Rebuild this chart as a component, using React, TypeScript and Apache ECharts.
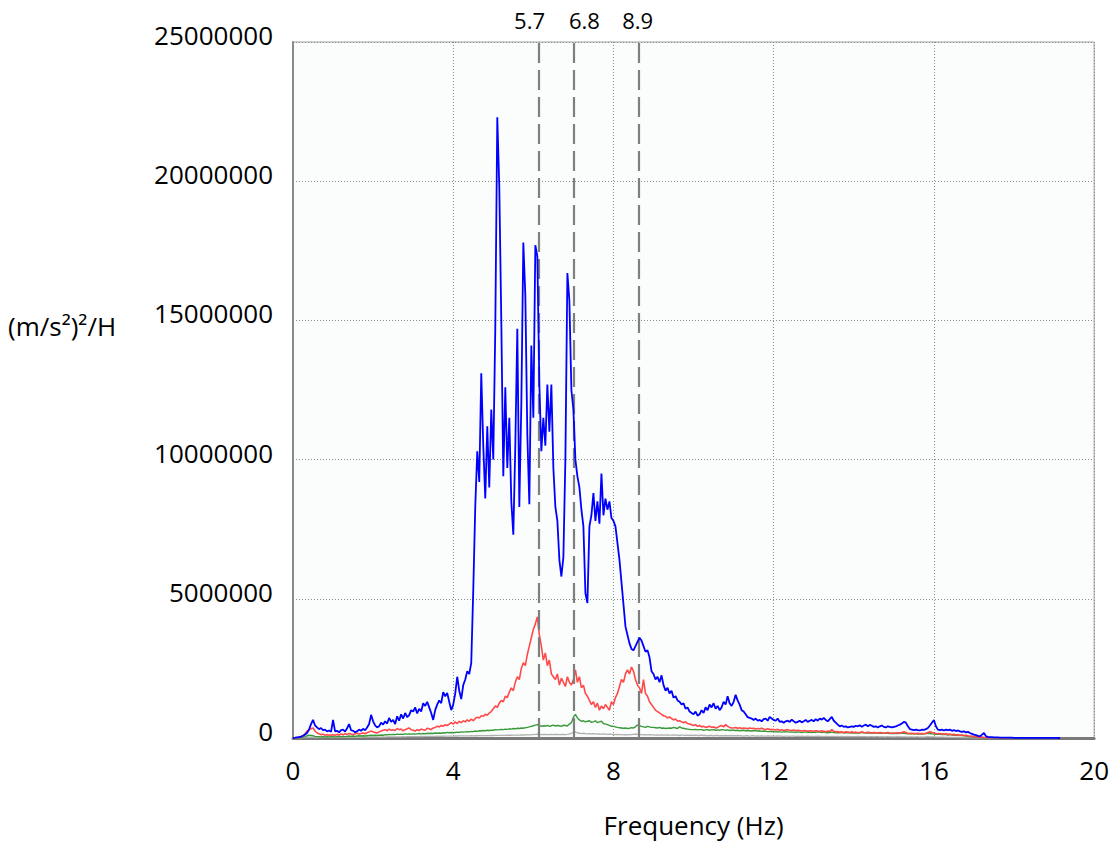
import React, { useEffect, useRef } from "react";
import * as echarts from "echarts";

// Sampling grid of the spectra (Hz) and unit of the value arrays ((m/s²)²/Hz, in millions)
const FREQ_STEP_HZ = 0.05;
const VALUE_UNIT = 1e6;

const X_MIN = 0;
const X_MAX = 20;
const X_INTERVAL = 4;
const Y_MIN = 0;
const Y_MAX = 25000000;
const Y_INTERVAL = 5000000;

const Y_AXIS_NAME = "(m/s²)²/H";
const X_AXIS_NAME = "Frequency (Hz)";

// Marked frequencies: position on the axis and printed label
const MARKER_POS = [6.13, 7.0, 8.63];
const MARKER_LABELS = ["5.7", "6.8", "8.9"];

// Blue spectrum, one row per Hz (20 samples of 0.05 Hz), millions
const BLUE_M = [
  0, 0.01, 0.02, 0.03, 0.05, 0.08, 0.12, 0.18, 0.3, 0.5, 0.65, 0.45, 0.38, 0.32, 0.36, 0.28, 0.3, 0.24, 0.27, 0.22,
  0.65, 0.24, 0.26, 0.2, 0.28, 0.3, 0.23, 0.35, 0.5, 0.28, 0.26, 0.21, 0.24, 0.3, 0.26, 0.33, 0.28, 0.38, 0.5, 0.83,
  0.6, 0.45, 0.38, 0.42, 0.55, 0.48, 0.6, 0.52, 0.72, 0.58, 0.65, 0.5, 0.78, 0.62, 0.85, 0.7, 0.9, 0.75, 0.82, 1.0,
  0.95, 1.1, 0.88, 1.05, 0.95, 1.25, 1.15, 1.3, 1.1, 0.9, 0.65, 1.0, 1.2, 1.35, 1.25, 1.65, 1.5, 1.62, 1.3, 1.0,
  1.2, 1.6, 2.2, 1.7, 1.4, 1.9, 2.1, 2.4, 2.3, 2.7, 5.3, 8.3, 10.3, 9.2, 13.1, 10.5, 8.6, 11.2, 9.0, 11.8,
  10.0, 14.7, 22.3, 19.8, 15.0, 9.4, 12.6, 9.7, 11.5, 8.5, 7.3, 10.5, 14.7, 8.3, 12.0, 17.8, 15.9, 10.9, 8.4, 14.1,
  11.5, 17.7, 17.3, 12.7, 10.3, 11.5, 10.5, 12.7, 11.0, 12.7, 9.7, 8.3, 7.8, 6.4, 5.8, 6.5, 10.0, 16.7, 15.7, 12.5,
  11.8, 10.0, 9.4, 9.0, 8.2, 7.6, 5.2, 4.85, 7.6, 8.0, 8.8, 7.8, 8.5, 7.7, 9.5, 8.0, 8.6, 8.2, 8.5, 7.9,
  7.8, 7.6, 7.0, 6.4, 5.6, 4.8, 4.0, 3.7, 3.4, 3.2, 3.15, 3.3, 3.45, 3.6, 3.5, 3.3, 3.1, 3.15, 2.9, 2.4,
  2.3, 2.1, 2.2, 2.0, 2.25, 1.9, 1.7, 1.8, 1.6, 1.7, 1.45, 1.5, 1.35, 1.3, 1.2, 1.25, 1.05, 1.1, 0.95, 0.9,
  0.85, 0.95, 0.8, 0.85, 1.0, 0.9, 1.1, 1.0, 1.2, 1.1, 1.25, 1.05, 1.15, 1.0, 1.1, 1.3, 1.2, 1.5, 1.25, 1.15,
  1.3, 1.55, 1.35, 1.2, 1.0, 0.95, 0.85, 0.75, 0.72, 0.7, 0.65, 0.7, 0.62, 0.65, 0.6, 0.68, 0.7, 0.62, 0.76, 0.7,
  0.65, 0.62, 0.7, 0.58, 0.6, 0.55, 0.6, 0.62, 0.58, 0.66, 0.6, 0.55, 0.58, 0.62, 0.56, 0.6, 0.65, 0.58, 0.62, 0.65,
  0.6, 0.68, 0.62, 0.7, 0.66, 0.72, 0.65, 0.6, 0.68, 0.76, 0.62, 0.55, 0.48, 0.42, 0.45, 0.4, 0.42, 0.38, 0.4, 0.42,
  0.4, 0.44, 0.42, 0.46, 0.4, 0.45, 0.48, 0.42, 0.47, 0.44, 0.4, 0.42, 0.38, 0.42, 0.45, 0.4, 0.38, 0.42, 0.4, 0.38,
  0.4, 0.42, 0.45, 0.48, 0.52, 0.58, 0.55, 0.42, 0.32, 0.3, 0.28, 0.3, 0.28, 0.27, 0.3, 0.29, 0.32, 0.36, 0.45, 0.55,
  0.65, 0.42, 0.3, 0.28, 0.3, 0.27, 0.3, 0.28, 0.3, 0.26, 0.28, 0.25, 0.27, 0.24, 0.22, 0.24, 0.2, 0.22, 0.18, 0.15,
  0.12, 0.1, 0.08, 0.06, 0.12, 0.18, 0.06, 0.04, 0.03, 0.03, 0.02, 0.02, 0.02, 0.015, 0.015, 0.01, 0.01, 0.01, 0.01, 0.01,
  0.008, 0.006, 0.008, 0.005, 0.006, 0.004, 0.005, 0.004, 0.003, 0.004, 0.003, 0.003, 0.002, 0.003, 0.002, 0.002, 0.001, 0.002, 0.001, 0.001,
  0.001, 0.001, 0, 0,
];

const RED_M = [
  0, 0.01, 0.02, 0.03, 0.05, 0.08, 0.15, 0.25, 0.3, 0.33, 0.36, 0.25, 0.18, 0.15, 0.12, 0.14, 0.1, 0.12, 0.1, 0.11,
  0.12, 0.1, 0.13, 0.11, 0.14, 0.12, 0.15, 0.13, 0.16, 0.14, 0.12, 0.15, 0.17, 0.14, 0.16, 0.18, 0.15, 0.19, 0.22, 0.25,
  0.22, 0.2, 0.18, 0.22, 0.25, 0.28, 0.3, 0.26, 0.32, 0.28, 0.3, 0.27, 0.34, 0.3, 0.32, 0.26, 0.3, 0.33, 0.36, 0.3,
  0.28, 0.25, 0.3, 0.27, 0.32, 0.3, 0.28, 0.35, 0.33, 0.3, 0.36, 0.38, 0.42, 0.4, 0.45, 0.42, 0.48, 0.45, 0.5, 0.55,
  0.5, 0.58, 0.52, 0.6, 0.55, 0.62, 0.58, 0.65, 0.6, 0.68, 0.62, 0.7, 0.75, 0.72, 0.8, 0.78, 0.85, 0.82, 0.9, 0.95,
  1.05, 1.15, 1.1, 1.25, 1.35, 1.3, 1.5, 1.45, 1.65, 1.8, 1.7, 2.0, 2.2, 2.1, 2.5, 2.7, 2.6, 3.0, 3.3, 3.6,
  3.9, 4.1, 4.35, 3.7, 3.3, 2.8, 3.05, 2.6, 2.8, 2.3, 2.2, 2.1, 2.3, 1.9, 2.15, 2.0, 1.85, 2.2, 2.0, 1.9,
  2.1, 2.45, 2.0, 2.2, 1.8, 1.9, 1.6, 1.5, 1.35, 1.2, 1.3, 1.1, 1.25, 1.0, 1.15, 1.05, 1.2, 1.1, 1.0, 1.3,
  1.2, 1.45, 1.6, 1.85, 2.1, 2.0, 2.3, 2.45, 2.3, 2.55, 2.4, 2.1, 1.9, 1.8, 1.6, 2.1, 1.6, 1.5, 1.3, 1.2,
  1.1, 1.0, 0.95, 0.9, 0.85, 0.8, 0.78, 0.72, 0.76, 0.7, 0.65, 0.68, 0.6, 0.62, 0.58, 0.55, 0.58, 0.52, 0.5, 0.48,
  0.45, 0.48, 0.42, 0.45, 0.4, 0.42, 0.38, 0.4, 0.42, 0.38, 0.4, 0.36, 0.38, 0.42, 0.45, 0.4, 0.48, 0.42, 0.38, 0.36,
  0.36, 0.38, 0.35, 0.37, 0.34, 0.36, 0.35, 0.33, 0.36, 0.34, 0.35, 0.32, 0.34, 0.33, 0.35, 0.32, 0.3, 0.33, 0.31, 0.3,
  0.3, 0.29, 0.31, 0.28, 0.3, 0.27, 0.29, 0.3, 0.28, 0.27, 0.29, 0.26, 0.28, 0.27, 0.25, 0.27, 0.26, 0.24, 0.26, 0.25,
  0.24, 0.26, 0.25, 0.23, 0.26, 0.24, 0.22, 0.25, 0.23, 0.3, 0.24, 0.22, 0.23, 0.21, 0.22, 0.2, 0.22, 0.21, 0.2, 0.22,
  0.2, 0.21, 0.19, 0.2, 0.22, 0.2, 0.19, 0.21, 0.2, 0.18, 0.2, 0.19, 0.18, 0.2, 0.19, 0.17, 0.18, 0.2, 0.18, 0.17,
  0.18, 0.17, 0.19, 0.18, 0.2, 0.22, 0.2, 0.17, 0.16, 0.17, 0.15, 0.16, 0.17, 0.15, 0.16, 0.15, 0.17, 0.2, 0.22, 0.2,
  0.18, 0.16, 0.15, 0.16, 0.15, 0.14, 0.15, 0.13, 0.14, 0.12, 0.13, 0.11, 0.12, 0.1, 0.11, 0.09, 0.1, 0.08, 0.07, 0.06,
  0.05, 0.04, 0.04, 0.03, 0.03, 0.02, 0.02, 0.015, 0.01, 0.01, 0.01, 0.008, 0.006, 0.005, 0.005, 0.004, 0.003, 0.003, 0.002, 0.002,
];

const GREEN_M = [
  0, 0.005, 0.01, 0.015, 0.02, 0.03, 0.05, 0.08, 0.1, 0.09, 0.08, 0.06, 0.05, 0.05, 0.04, 0.05, 0.04, 0.05, 0.04, 0.05,
  0.05, 0.04, 0.05, 0.06, 0.05, 0.06, 0.05, 0.06, 0.07, 0.06, 0.07, 0.06, 0.07, 0.08, 0.07, 0.08, 0.07, 0.08, 0.09, 0.1,
  0.09, 0.1, 0.09, 0.1, 0.11, 0.1, 0.12, 0.11, 0.13, 0.12, 0.13, 0.12, 0.14, 0.13, 0.14, 0.13, 0.15, 0.14, 0.15, 0.14,
  0.15, 0.14, 0.15, 0.16, 0.15, 0.16, 0.15, 0.17, 0.16, 0.17, 0.16, 0.18, 0.17, 0.18, 0.17, 0.19, 0.18, 0.2, 0.19, 0.2,
  0.19, 0.2, 0.21, 0.2, 0.22, 0.21, 0.22, 0.23, 0.22, 0.24, 0.23, 0.25, 0.24, 0.26, 0.25, 0.27, 0.26, 0.28, 0.27, 0.28,
  0.28, 0.3, 0.29, 0.3, 0.31, 0.3, 0.32, 0.31, 0.33, 0.32, 0.34, 0.33, 0.35, 0.34, 0.36, 0.35, 0.37, 0.38, 0.4, 0.42,
  0.44, 0.46, 0.48, 0.45, 0.42, 0.44, 0.43, 0.45, 0.42, 0.44, 0.46, 0.43, 0.45, 0.44, 0.42, 0.46, 0.45, 0.43, 0.5, 0.55,
  0.75, 0.85, 0.72, 0.65, 0.6, 0.62, 0.58, 0.6, 0.62, 0.56, 0.58, 0.62, 0.55, 0.58, 0.6, 0.52, 0.5, 0.48, 0.45, 0.42,
  0.42, 0.4, 0.38, 0.37, 0.36, 0.35, 0.36, 0.34, 0.35, 0.37, 0.36, 0.4, 0.47, 0.44, 0.42, 0.4, 0.38, 0.42, 0.4, 0.38,
  0.38, 0.37, 0.36, 0.38, 0.35, 0.36, 0.34, 0.35, 0.36, 0.35, 0.38, 0.36, 0.34, 0.4, 0.36, 0.35, 0.33, 0.32, 0.31, 0.3,
  0.3, 0.31, 0.29, 0.3, 0.3, 0.28, 0.29, 0.3, 0.28, 0.29, 0.3, 0.28, 0.29, 0.28, 0.3, 0.29, 0.28, 0.29, 0.27, 0.28,
  0.28, 0.27, 0.28, 0.26, 0.27, 0.28, 0.26, 0.27, 0.26, 0.25, 0.27, 0.26, 0.25, 0.26, 0.24, 0.25, 0.24, 0.23, 0.24, 0.23,
  0.23, 0.22, 0.23, 0.22, 0.21, 0.22, 0.23, 0.22, 0.21, 0.22, 0.21, 0.2, 0.22, 0.21, 0.2, 0.21, 0.22, 0.2, 0.21, 0.2,
  0.21, 0.2, 0.22, 0.21, 0.2, 0.21, 0.2, 0.19, 0.2, 0.21, 0.2, 0.19, 0.2, 0.19, 0.2, 0.18, 0.19, 0.2, 0.19, 0.18,
  0.19, 0.18, 0.19, 0.18, 0.2, 0.19, 0.18, 0.19, 0.18, 0.17, 0.18, 0.19, 0.18, 0.17, 0.18, 0.17, 0.18, 0.17, 0.16, 0.17,
  0.16, 0.17, 0.16, 0.17, 0.18, 0.17, 0.16, 0.15, 0.16, 0.15, 0.16, 0.15, 0.14, 0.15, 0.14, 0.15, 0.16, 0.17, 0.16, 0.15,
  0.14, 0.13, 0.14, 0.13, 0.12, 0.13, 0.12, 0.11, 0.12, 0.11, 0.1, 0.11, 0.1, 0.09, 0.1, 0.08, 0.07, 0.06, 0.05, 0.04,
  0.04, 0.03, 0.03, 0.02, 0.02, 0.015, 0.01, 0.01, 0.008, 0.006, 0.005, 0.004, 0.003, 0.002, 0.002, 0.001, 0.001, 0.001, 0, 0,
];

const GRAY_M = [
  0, 0.002, 0.004, 0.006, 0.008, 0.01, 0.015, 0.02, 0.025, 0.02, 0.02, 0.018, 0.02, 0.017, 0.02, 0.018, 0.02, 0.019, 0.021, 0.02,
  0.02, 0.022, 0.021, 0.023, 0.022, 0.024, 0.023, 0.025, 0.024, 0.026, 0.025, 0.027, 0.026, 0.028, 0.027, 0.029, 0.03, 0.029, 0.031, 0.032,
  0.03, 0.032, 0.034, 0.033, 0.035, 0.036, 0.035, 0.038, 0.037, 0.04, 0.039, 0.041, 0.042, 0.04, 0.043, 0.045, 0.044, 0.046, 0.048, 0.047,
  0.05, 0.049, 0.052, 0.051, 0.054, 0.053, 0.056, 0.055, 0.058, 0.057, 0.06, 0.059, 0.062, 0.061, 0.064, 0.063, 0.066, 0.065, 0.068, 0.07,
  0.07, 0.072, 0.071, 0.074, 0.073, 0.076, 0.075, 0.078, 0.077, 0.08, 0.079, 0.082, 0.081, 0.084, 0.083, 0.086, 0.085, 0.088, 0.087, 0.09,
  0.09, 0.092, 0.091, 0.094, 0.093, 0.096, 0.095, 0.098, 0.1, 0.099, 0.102, 0.104, 0.103, 0.106, 0.108, 0.107, 0.11, 0.112, 0.115, 0.118,
  0.12, 0.13, 0.14, 0.13, 0.12, 0.125, 0.13, 0.12, 0.125, 0.13, 0.12, 0.125, 0.13, 0.12, 0.125, 0.13, 0.12, 0.13, 0.15, 0.17,
  0.2, 0.22, 0.18, 0.17, 0.16, 0.17, 0.16, 0.15, 0.16, 0.15, 0.16, 0.15, 0.14, 0.15, 0.14, 0.15, 0.14, 0.13, 0.14, 0.13,
  0.13, 0.12, 0.13, 0.12, 0.12, 0.11, 0.12, 0.11, 0.12, 0.12, 0.13, 0.14, 0.13, 0.12, 0.12, 0.11, 0.12, 0.11, 0.12, 0.11,
  0.11, 0.1, 0.11, 0.1, 0.11, 0.1, 0.1, 0.11, 0.1, 0.1, 0.11, 0.1, 0.1, 0.09, 0.1, 0.1, 0.09, 0.1, 0.09, 0.1,
  0.09, 0.1, 0.09, 0.09, 0.1, 0.09, 0.09, 0.08, 0.09, 0.09, 0.08, 0.09, 0.09, 0.08, 0.09, 0.08, 0.09, 0.08, 0.08, 0.09,
  0.08, 0.08, 0.09, 0.08, 0.08, 0.07, 0.08, 0.08, 0.07, 0.08, 0.08, 0.07, 0.08, 0.07, 0.08, 0.07, 0.07, 0.08, 0.07, 0.07,
  0.07, 0.07, 0.08, 0.07, 0.07, 0.06, 0.07, 0.07, 0.06, 0.07, 0.07, 0.06, 0.07, 0.06, 0.07, 0.06, 0.06, 0.07, 0.06, 0.06,
  0.06, 0.06, 0.07, 0.06, 0.06, 0.05, 0.06, 0.06, 0.05, 0.06, 0.06, 0.05, 0.06, 0.05, 0.06, 0.05, 0.05, 0.06, 0.05, 0.05,
  0.05, 0.05, 0.06, 0.05, 0.05, 0.05, 0.05, 0.04, 0.05, 0.05, 0.04, 0.05, 0.05, 0.04, 0.05, 0.04, 0.04, 0.05, 0.04, 0.04,
  0.04, 0.04, 0.05, 0.04, 0.04, 0.04, 0.04, 0.03, 0.04, 0.04, 0.03, 0.04, 0.04, 0.03, 0.04, 0.03, 0.04, 0.05, 0.04, 0.04,
  0.04, 0.03, 0.03, 0.03, 0.03, 0.03, 0.02, 0.03, 0.02, 0.02, 0.02, 0.02, 0.02, 0.015, 0.015, 0.01, 0.01, 0.01, 0.008, 0.006,
  0.005, 0.004, 0.003, 0.003, 0.002, 0.002, 0.001, 0.001, 0.001, 0.001, 0, 0, 0, 0, 0, 0, 0, 0, 0, 0,
];

const FONT = "'Open Sans', 'Liberation Sans', sans-serif";

function toPairs(vals: number[]) {
  return vals.map((v, i) => [Math.round(i * FREQ_STEP_HZ * 100) / 100, v * VALUE_UNIT]);
}

export default function App() {
  const ref = useRef<HTMLDivElement>(null);

  useEffect(() => {
    document.body.style.margin = "0";
    const chart = echarts.init(ref.current!, null, { renderer: "svg" });
    const dotted = { color: "#8c8c8c", width: 1, type: [1, 2] as any };
    const lineSeries = (name: string, vals: number[], color: string, width: number, z: number, extra: any = {}) => ({
      name,
      type: "line",
      data: toPairs(vals),
      showSymbol: false,
      symbol: "none",
      z,
      lineStyle: { color, width, join: "bevel" },
      itemStyle: { color },
      emphasis: { disabled: true },
      ...extra,
    });

    chart.setOption({
      animation: false,
      backgroundColor: "#ffffff",
      grid: {
        left: 293,
        right: 17,
        top: 42,
        bottom: 105,
        show: true,
        backgroundColor: "#fbfcfc",
        borderColor: "#a0a0a0",
        borderWidth: 1,
      },
      xAxis: {
        type: "value",
        min: X_MIN,
        max: X_MAX,
        interval: X_INTERVAL,
        axisLine: { show: true, onZero: false, lineStyle: { color: "#7a7a7a", width: 3 } },
        axisTick: { show: false },
        axisLabel: { color: "#000", fontSize: 26, fontFamily: FONT, margin: 19 },
        splitLine: { show: true, lineStyle: dotted },
        name: X_AXIS_NAME,
        nameLocation: "middle",
        nameGap: 74,
        nameTextStyle: { color: "#000", fontSize: 26, fontFamily: FONT },
      },
      yAxis: {
        type: "value",
        min: Y_MIN,
        max: Y_MAX,
        interval: Y_INTERVAL,
        axisLine: { show: true, lineStyle: { color: "#8a8a8a", width: 2 } },
        axisTick: { show: false },
        axisLabel: {
          color: "#000",
          fontSize: 26,
          fontFamily: FONT,
          margin: 20,
          verticalAlign: "bottom",
          lineHeight: 14,
          formatter: (v: number) => String(v),
        },
        splitLine: { show: true, lineStyle: dotted },
      },
      series: [
        lineSeries("gray", GRAY_M, "#b0b0b0", 1.3, 2),
        lineSeries("green", GREEN_M, "#3a9a3a", 1.4, 3),
        lineSeries("red", RED_M, "#ff4a4a", 1.6, 4),
        lineSeries("blue", BLUE_M, "#0000ff", 1.8, 5, {
          markLine: {
            silent: true,
            symbol: "none",
            animation: false,
            label: { show: false },
            lineStyle: { color: "#7f7f7f", width: 2.2, type: [20, 7] },
            data: MARKER_POS.map((p) => ({ xAxis: p })),
          },
        }),
      ],
    });

    const labelOffsets = [-9, 11, -1];
    chart.setOption({
      graphic: [
        ...MARKER_POS.map((p, i) => {
          const px = chart.convertToPixel({ xAxisIndex: 0 }, p) as number;
          return {
            type: "text",
            x: px + labelOffsets[i],
            y: 20,
            style: {
              text: MARKER_LABELS[i],
              fontSize: 22,
              fontFamily: FONT,
              fill: "#000",
              align: "center",
              verticalAlign: "middle",
              textAlign: "center",
              textVerticalAlign: "middle",
            },
          };
        }),
        {
          type: "text",
          x: 8,
          y: 326,
          style: {
            text: Y_AXIS_NAME,
            fontSize: 26,
            fontFamily: FONT,
            fill: "#000",
            align: "left",
            verticalAlign: "middle",
            textAlign: "left",
            textVerticalAlign: "middle",
          },
        },
      ],
    });

    return () => chart.dispose();
  }, []);

  return <div ref={ref} style={{ width: 1112, height: 843 }} />;
}
